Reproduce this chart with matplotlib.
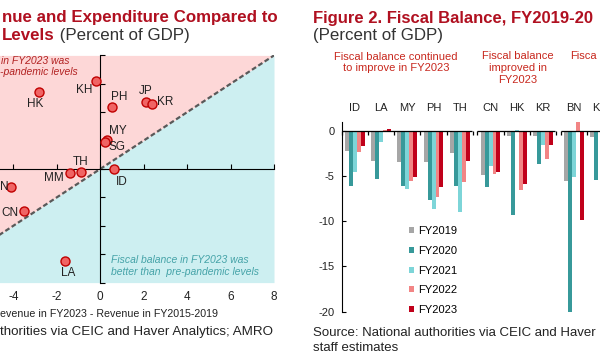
import numpy as np
import matplotlib.pyplot as plt
from matplotlib.patches import Patch

plt.rcParams['font.family'] = ['Liberation Sans', 'DejaVu Sans']
plt.rcParams['axes.unicode_minus'] = False

# Figure 1 (left): change vs FY2015-2019, percent of GDP
# (the left edge of the picture is cropped, so the VN label only shows "N")
economies = ['KH', 'HK', 'PH', 'JP', 'KR', 'MY', 'SG', 'ID', 'TH', 'MM', 'N', 'CN', 'LA']
rev_change = [-0.2, -2.8, 0.55, 2.1, 2.4, 0.3, 0.2, 0.65, -0.9, -1.4, -4.1, -3.5, -1.6]
exp_change = [6.2, 5.4, 4.35, 4.75, 4.6, 2.05, 1.9, 0.0, -0.2, -0.3, -1.3, -2.95, -6.5]
x_ticks = [-4, -2, 0, 2, 4, 6, 8]

# Figure 2 (right): fiscal balance, percent of GDP
groups = [['ID', 'LA', 'MY', 'PH', 'TH'], ['CN', 'HK', 'KR'], ['BN', 'KH']]
years = ['FY2019', 'FY2020', 'FY2021', 'FY2022', 'FY2023']
fy2019 = [-2.2, -3.3, -3.5, -3.4, -2.5, -4.9, -0.6, -0.6, -5.6, -0.7]
fy2020 = [-6.1, -5.3, -6.1, -7.7, -6.1, -6.2, -9.3, -3.7, -20.0, -5.4]
fy2021 = [-4.6, -1.25, -6.4, -8.6, -9.0, -3.9, 0.1, -1.55, -5.1, np.nan]
fy2022 = [-2.3, 0.05, -5.6, -7.3, -5.7, -4.8, -6.6, -3.1, 1.0, np.nan]
fy2023 = [-1.7, 0.15, -5.1, -6.2, -3.3, -4.6, -5.9, -1.55, -9.9, np.nan]
group_notes = ['Fiscal balance continued\nto improve in FY2023',
               'Fiscal balance\nimproved in\nFY2023', 'Fisca']

W, H = 600, 364
RED = '#B01020'
GREY = '#333333'
DARK = '#222222'


def fx(x):
    return x / W


def fy(y):
    return 1 - y / H


fig = plt.figure(figsize=(W / 100, H / 100), dpi=100)

# ---------------- left panel ----------------
ax1 = fig.add_axes([fx(-73.6), fy(282.6), 347.6 / W, 227.2 / H])
ax1.set_xlim(-8, 8)
ax1.set_ylim(-8, 8)
xx = np.array([-8, 8])
ax1.fill_between(xx, xx, 8, color='#FDD7D7', lw=0)
ax1.fill_between(xx, -8, xx, color='#CDEFF1', lw=0)
ax1.plot(xx, xx, ls=(0, (2.2, 1.2)), color='#595959', lw=1.6, zorder=2)

for s in ['top', 'right']:
    ax1.spines[s].set_visible(False)
ax1.spines['left'].set_position(('data', 0))
ax1.spines['bottom'].set_position(('data', 0))
ax1.spines['left'].set_zorder(3)
ax1.spines['bottom'].set_zorder(3)
ax1.set_xticks(np.arange(-8, 9, 2))
ax1.set_yticks(np.arange(-8, 9, 2))
ax1.tick_params(direction='in', length=3.5, labelbottom=False, labelleft=False)

# tick labels sit under the plot, not on the zero axis
sec = ax1.secondary_xaxis('bottom')
sec.set_xticks(x_ticks)
sec.spines['bottom'].set_visible(False)
sec.tick_params(length=0, labelsize=8.5, pad=6, labelcolor=DARK)

ax1.plot(rev_change, exp_change, 'o', ms=6.5, mfc='#F06464', mec='#C00000',
         mew=1.0, zorder=5)

offsets = {'KH': (-12, 9), 'HK': (-4, 12), 'PH': (7, -10), 'JP': (0, -11),
           'KR': (13, -2), 'MY': (11, -9), 'SG': (12, 5), 'ID': (7, 13),
           'TH': (0, -10), 'MM': (-16, 5), 'N': (-3, 0), 'CN': (-6, 2),
           'LA': (3, 12)}
for name, xv, yv in zip(economies, rev_change, exp_change):
    dx, dy = offsets[name]
    ha = 'right' if name in ('N', 'CN') else 'center'
    ax1.annotate(name, (xv, yv), xytext=(dx, -dy), textcoords='offset pixels',
                 ha=ha, va='center', fontsize=8.5, color=DARK, zorder=6)

fig.text(fx(1), fy(61), 'in FY2023 was', fontsize=7.5, style='italic',
         color='#B22222', va='center')
fig.text(fx(0), fy(72), '-pandemic levels', fontsize=7.5, style='italic',
         color='#B22222', va='center')
ax1.text(0.5, -6.83, 'Fiscal balance in FY2023 was\nbetter than  pre-pandemic levels',
         fontsize=7.5, style='italic', color='#45A3A8', ha='left', va='center',
         linespacing=1.3)

fig.text(fx(0), fy(314), 'evenue in FY2023 - Revenue in FY2015-2019',
         fontsize=7.7, color=DARK, va='center')
fig.text(fx(0), fy(332), 'thorities via CEIC and Haver Analytics; AMRO',
         fontsize=9.6, color=DARK, va='center')

fig.text(fx(2), fy(22), 'nue and Expenditure Compared to', fontsize=12.2,
         fontweight='bold', color=RED, va='baseline')
t1 = fig.text(fx(2), fy(40), 'Levels', fontsize=12.2, fontweight='bold',
              color=RED, va='baseline')
fig.add_artist(plt.Annotation(' (Percent of GDP)', xy=(1, 0), xycoords=t1,
                              va='bottom', fontsize=12.2, color=GREY))

# ---------------- right panel ----------------
ax2 = fig.add_axes([fx(341.7), fy(311.7), (W - 341.7) / W, 190 / H])

gap = 0.17
xpos = []
spans = []
s = 0
for g in groups:
    spans.append((s, s + len(g)))
    xpos += [s + i + 0.5 for i in range(len(g))]
    s += len(g) + gap
xpos = np.array(xpos)
labels = [c for g in groups for c in g]

colors = ['#A6A6A6', '#37999A', '#7DD5D8', '#F28585', '#C0001A']
series = [fy2019, fy2020, fy2021, fy2022, fy2023]
bw = 0.15
for k, vals in enumerate(series):
    ax2.bar(xpos + (k - 2) * bw, vals, bw, color=colors[k], lw=0, zorder=2)

ax2.set_xlim(0, (W - 341.7) / 26.7)
ax2.set_ylim(-20, 1)
for sp in ['top', 'right', 'bottom']:
    ax2.spines[sp].set_visible(False)
ax2.set_yticks([0, -5, -10, -15, -20])
ax2.tick_params(axis='y', direction='in', length=3, labelsize=8, pad=5,
                labelcolor=DARK)
ax2.set_xticks(xpos)
ax2.set_xticklabels(labels)
ax2.tick_params(axis='x', length=0, labelbottom=False, labeltop=True,
                labelsize=8, pad=6, labelcolor=DARK)

# one zero-line segment per group, with small ticks between categories
for a, b in spans:
    ax2.hlines(0, a, b - 0.05, color='black', lw=0.9, zorder=3)
    edges = np.arange(a, b + 0.5)
    ax2.plot(edges, np.zeros(len(edges)), ls='none', marker=3, ms=3,
             color='black', mew=0.9, zorder=3, clip_on=False)

note_x = [396, 517.7, 570]
note_y = [62.3, 68, 56]
for note, nx, ny in zip(group_notes, note_x, note_y):
    fig.text(fx(nx), fy(ny), note, fontsize=8, color='#C8281E',
             ha='left' if note == 'Fisca' else 'center', va='center',
             linespacing=1.2)

handles = [Patch(facecolor=c, label=y) for c, y in zip(colors, years)]
ax2.legend(handles=handles, loc='upper left', bbox_to_anchor=(fx(409), fy(226)),
           bbox_transform=fig.transFigure, frameon=False, fontsize=8,
           handlelength=0.45, handleheight=0.45, handletextpad=0.35,
           labelspacing=0.88, borderpad=0, borderaxespad=0)

fig.text(fx(313), fy(23), 'Figure 2. Fiscal Balance, FY2019-20', fontsize=12.0,
         fontweight='bold', color=RED, va='baseline')
fig.text(fx(313), fy(40), '(Percent of GDP)', fontsize=12.2, color=GREY,
         va='baseline')
fig.text(fx(313), fy(332.7), 'Source: National authorities via CEIC and Haver',
         fontsize=9.5, color=DARK, va='center')
fig.text(fx(313), fy(348), 'staff estimates', fontsize=9.5, color=DARK,
         va='center')

fig.savefig('out.png', dpi=100)
